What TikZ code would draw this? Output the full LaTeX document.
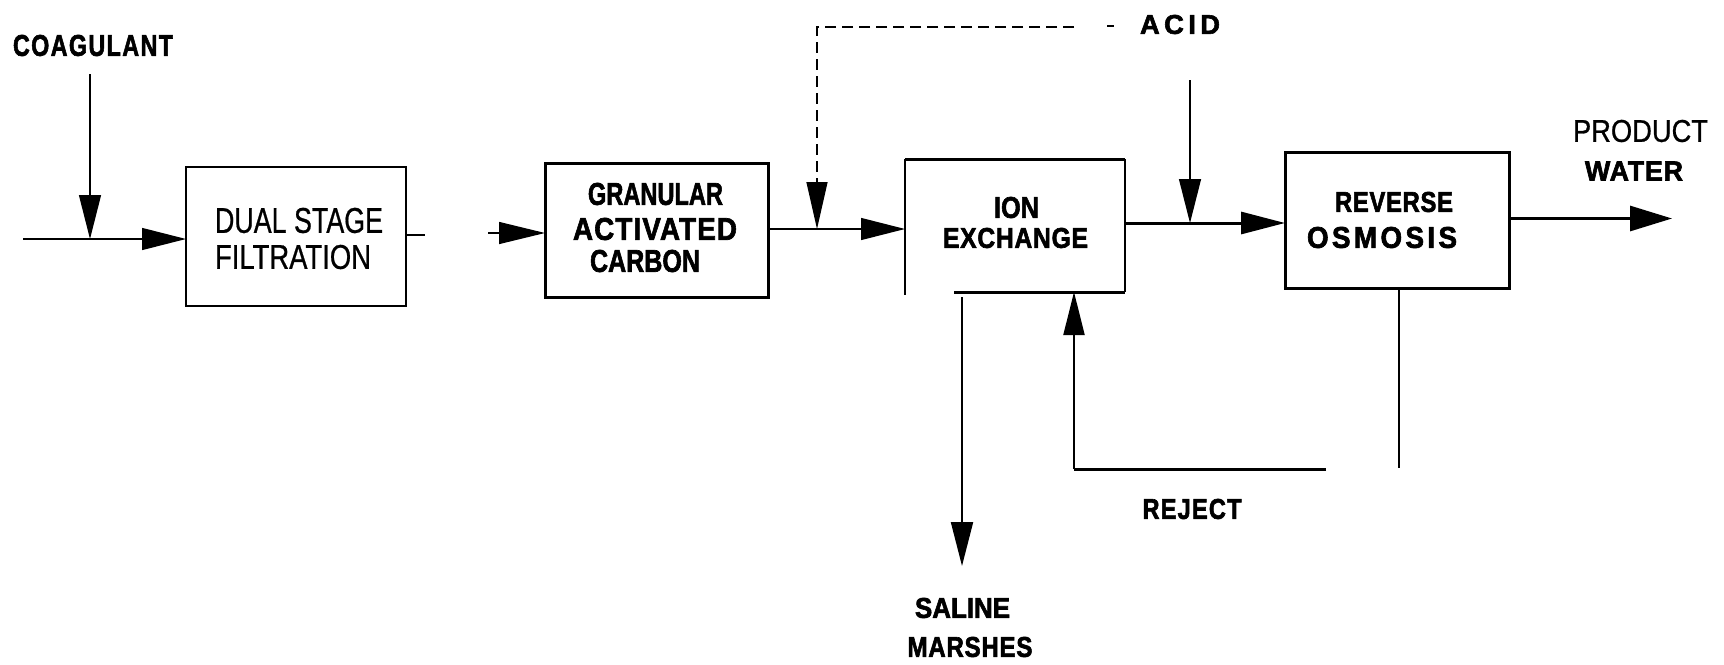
\documentclass[tikz,border=0pt]{standalone}
\usepackage{fontspec}
\setmainfont{Liberation Sans}[BoldFeatures={FakeBold=2.2}, UprightFeatures={FakeBold=0.8}]
\usepackage{graphicx}
\usetikzlibrary{arrows.meta}

% text fitted to a given width and cap height (in pt)
\newcommand\fitlabel[3]{\resizebox{#1pt}{#2pt}{#3}}
% the same with extra letter spacing
\newcommand\fitspaced[4]{\resizebox{#1pt}{#2pt}{\addfontfeature{LetterSpace=#3}#4\kern0pt}}

\tikzset{
  lab/.style={inner sep=0pt, outer sep=0pt},
  thinln/.style={line width=1.3pt},
  medln/.style={line width=2pt},
  thickln/.style={line width=3pt},
  tip/.style={-{Triangle[length=44pt,width=22pt]}},
  boxnode/.style={inner sep=0pt, outer sep=0pt},
  acidln/.style={line width=1.3pt, dash pattern=on 11pt off 6pt},
}

\begin{document}
\begin{tikzpicture}[x=1pt,y=-1pt]
  \useasboundingbox (0,0) rectangle (1724,664);

  % ---- process boxes ----
  \node[boxnode, draw, thinln, minimum width=220pt, minimum height=139pt] (dual) at (296,236.5) {};
  \node[boxnode, draw, thickln, minimum width=223pt, minimum height=134pt] (gac) at (656.5,230) {};
  \node[boxnode, minimum width=220pt, minimum height=133pt] (ion) at (1015,225.5) {};
  \node[boxnode, draw, thickln, minimum width=224pt, minimum height=136pt] (ro) at (1397,220.5) {};

  % ion exchange box outline (bottom edge open on the left)
  \draw[thickln] (ion.north west) -- (ion.north east);
  \draw[medln] (ion.north east) -- (ion.south east);
  \draw[thinln] (ion.north west) -- ++(0,136);
  \draw[thickln] (954,292) -- (ion.south east);

  % ---- labels ----
  \node[lab] (coag) at (93,45.5) {\fitspaced{160}{21}{6}{\bfseries COAGULANT}};
  \node[lab, anchor=west] (dual1) at (215,220.5) {\fitlabel{168}{25}{DUAL STAGE}};
  \node[lab, anchor=west] (dual2) at (215,257) {\fitlabel{156}{24}{FILTRATION}};
  \node[lab] (gac1) at (655.5,194) {\fitlabel{135}{22}{\bfseries GRANULAR}};
  \node[lab] (gac2) at (655,229) {\fitspaced{164}{22}{4}{\bfseries ACTIVATED}};
  \node[lab] (gac3) at (645,261) {\fitlabel{110}{22}{\bfseries CARBON}};
  \node[lab] (ion1) at (1016.5,207.5) {\fitlabel{45}{21}{\bfseries ION}};
  \node[lab] (ion2) at (1015.5,238) {\fitspaced{145}{20}{3}{\bfseries EXCHANGE}};
  \node[lab] (ro1) at (1394,202) {\fitspaced{118}{20}{3}{\bfseries REVERSE}};
  \node[lab] (ro2) at (1382,237.5) {\fitspaced{150}{21}{12}{\bfseries OSMOSIS}};
  \node[lab] (prod1) at (1640.5,131) {\fitlabel{135}{22}{PRODUCT}};
  \node[lab] (prod2) at (1634,171) {\fitspaced{98}{19}{3}{\bfseries WATER}};
  \node[lab] (acid) at (1180,24.5) {\fitspaced{80}{19}{16}{\bfseries ACID}};
  \node[lab] (rej) at (1192,509) {\fitspaced{99}{20}{5}{\bfseries REJECT}};
  \node[lab] (sal1) at (962.5,608) {\fitlabel{95}{20}{\bfseries SALINE}};
  \node[lab] (sal2) at (970,647) {\fitspaced{125}{20}{3}{\bfseries MARSHES}};

  % ---- connection points ----
  \coordinate (feed) at (23,239);
  \coordinate (coagtop) at (90,74);
  \coordinate (coagj) at (90,239);
  \coordinate (stub) at (425,235);
  \coordinate (gacfeed) at (488,233);
  \coordinate (acidj) at (817,229);
  \coordinate (acidcorner) at (817,27);
  \coordinate (acidend) at (1074,27);
  \coordinate (aciddash1) at (1107,26);
  \coordinate (aciddash2) at (1114,26);
  \coordinate (acid2top) at (1190,80);
  \coordinate (acid2j) at (1190,223);
  \coordinate (prodend) at (1672,218.5);
  \coordinate (saltop) at (962,297);
  \coordinate (salend) at (962,566);
  \coordinate (rodown) at (1399,468);
  \coordinate (rejright) at (1326,469);
  \coordinate (rejcorner) at (1074,469);
  \coordinate (rejtip) at (1074,292);

  % ---- flow lines ----
  \draw[thinln, tip] (feed) -- (feed -| dual.west);
  \draw[thinln, tip] (coagtop) -- (coagj);
  \draw[thinln] (stub -| dual.east) -- (stub);
  \draw[thinln, -{Triangle[length=46pt,width=22pt]}] (gacfeed) -- (gacfeed -| gac.west);
  \draw[thinln, tip] (gac.east |- acidj) -- (acidj -| ion.west);

  % acid dosing ahead of ion exchange (dashed)
  \draw[line width=2.5pt] (aciddash1) -- (aciddash2);
  \draw[acidln, -{Triangle[length=47pt,width=21pt]}] (acidend) -- (acidcorner) -- (acidj);

  % ion exchange to reverse osmosis, with acid dosing
  \draw[thickln, tip] (ion.east |- acid2j) -- (acid2j -| ro.west);
  \draw[thinln, tip] (acid2top) -- (acid2j);

  % product water
  \draw[thickln, -{Triangle[length=42pt,width=25pt]}] (ro.east |- prodend) -- (prodend);

  % regenerant to saline marshes
  \draw[medln, tip] (saltop) -- (salend);

  % reverse osmosis reject back to ion exchange
  \draw[medln] (ro.south -| rodown) -- (rodown);
  \draw[thickln] (rejright) -- (rejcorner);
  \draw[medln, -{Triangle[length=43pt,width=21pt]}] (rejcorner) -- (rejtip);
\end{tikzpicture}
\end{document}
